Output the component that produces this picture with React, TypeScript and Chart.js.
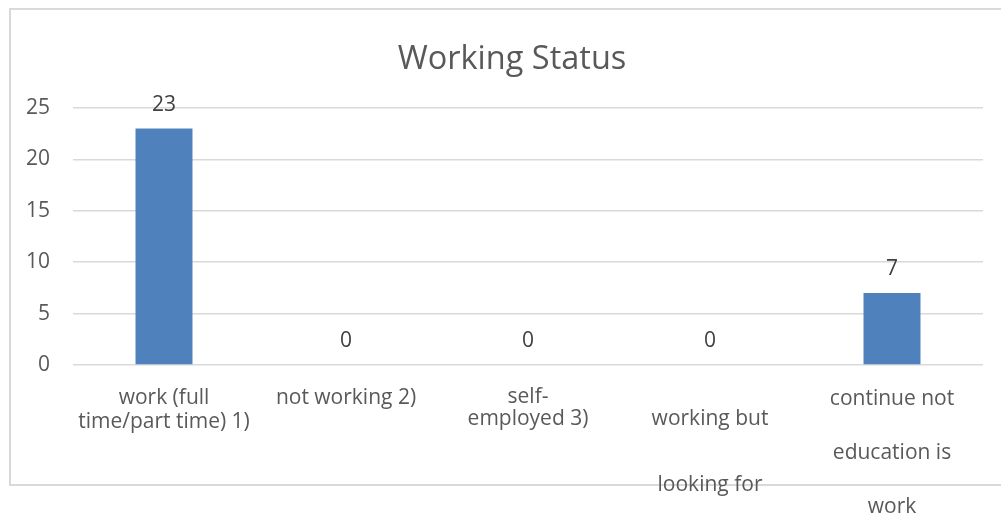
import React, { useEffect, useRef } from "react";
import { Chart, registerables } from "chart.js";

Chart.register(...registerables);

const titleText = "Working Status";
const categories: string[][] = [
  ["work (full", "time/part time) 1)"],
  ["not working 2)"],
  ["self-", "employed 3)"],
  ["", "working but", "", "", "looking for"],
  ["continue not", "", "education is", "", "work"],
];
const counts = [23, 0, 0, 0, 7];
const yTicks = [0, 5, 10, 15, 20, 25];

const FONT = "'Open Sans', 'Noto Sans', sans-serif";
const labelLineHeights = ["24px", "24px", "22px", "22px", "27px"];

const frame = {
  id: "frame",
  beforeDraw(chart: any) {
    const ctx = chart.ctx;
    ctx.save();
    ctx.strokeStyle = "#d9d9d9";
    ctx.lineWidth = 2;
    ctx.strokeRect(10, 9, 1100, 476);
    ctx.restore();
  },
};

// the original chart frame is wider than the page; centre the title on it
const titleShift = {
  id: "titleShift",
  afterLayout(chart: any) {
    const t = chart.titleBlock;
    if (t) {
      t.left = 41;
      t.width = t.right - t.left;
    }
  },
};

const valueLabels = {
  id: "valueLabels",
  afterDatasetsDraw(chart: any) {
    const ctx = chart.ctx;
    const meta = chart.getDatasetMeta(0);
    ctx.save();
    ctx.font = `21px ${FONT}`;
    ctx.fillStyle = "#404040";
    ctx.textAlign = "center";
    ctx.textBaseline = "middle";
    meta.data.forEach((bar: any, i: number) => {
      ctx.fillText(String(counts[i]), bar.x, bar.y - 24);
    });
    ctx.restore();
  },
};

export default function App() {
  const ref = useRef<HTMLCanvasElement>(null);
  useEffect(() => {
    if (!ref.current) return;
    const chart = new Chart(ref.current, {
      type: "bar",
      data: {
        labels: categories,
        datasets: [
          {
            data: counts,
            backgroundColor: "#4f81bd",
            borderWidth: 0,
            barPercentage: 0.313,
            categoryPercentage: 1,
          },
        ],
      },
      options: {
        animation: false,
        responsive: true,
        maintainAspectRatio: false,
        layout: { padding: { left: 0, right: 18, top: 0, bottom: 0 } },
        plugins: {
          legend: { display: false },
          tooltip: { enabled: false },
          title: {
            display: true,
            text: titleText,
            color: "#595959",
            font: { family: FONT, size: 32.5, weight: "normal", lineHeight: 1.2 },
            padding: { top: 40, bottom: 29 },
          },
        },
        scales: {
          x: {
            grid: { display: false, drawTicks: false },
            border: { display: false },
            ticks: {
              autoSkip: false,
              maxRotation: 0,
              minRotation: 0,
              padding: 21,
              color: "#595959",
              font: (ctx: any) => ({
                family: FONT,
                size: 21,
                lineHeight: labelLineHeights[ctx.index] || "24px",
              }),
            },
            afterFit(scale: any) {
              scale.height = 153;
            },
          },
          y: {
            min: 0,
            max: 25,
            grid: { color: "#d9d9d9", lineWidth: 1.5, drawTicks: false },
            border: { display: false },
            afterBuildTicks(scale: any) {
              scale.ticks = yTicks.map((v) => ({ value: v }));
            },
            ticks: {
              padding: 23,
              color: "#595959",
              font: { family: FONT, size: 21 },
            },
            afterFit(scale: any) {
              scale.width = 73;
            },
          },
        },
      },
      plugins: [frame, titleShift, valueLabels],
    });
    return () => chart.destroy();
  }, []);
  return (
    <div style={{ position: "absolute", left: 0, top: 0, width: 1001, height: 518 }}>
      <canvas ref={ref} />
    </div>
  );
}
